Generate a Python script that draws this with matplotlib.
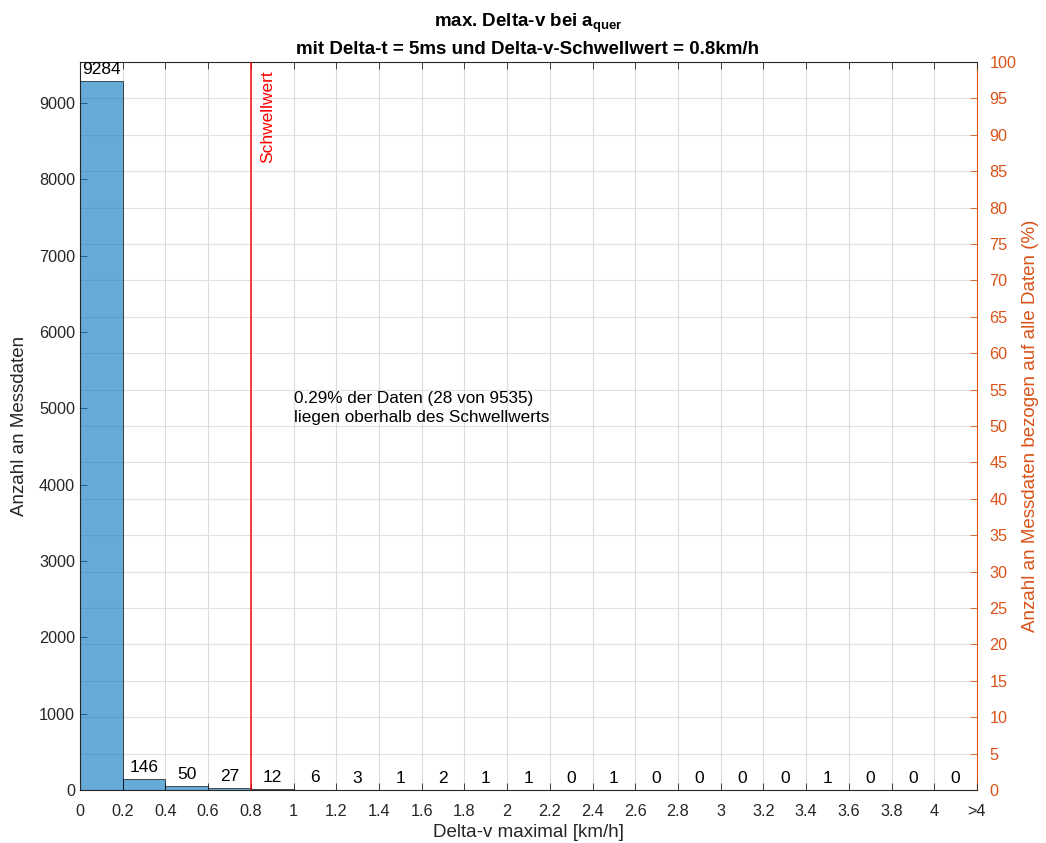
import matplotlib
matplotlib.use("Agg")
import matplotlib.pyplot as plt
import numpy as np

plt.rcParams['font.family'] = ['Liberation Sans', 'DejaVu Sans']
plt.rcParams['mathtext.fontset'] = 'custom'
plt.rcParams['mathtext.rm'] = 'Liberation Sans'
plt.rcParams['mathtext.bf'] = 'Liberation Sans:bold'

# histogram data
bin_edges = [0, 0.2, 0.4, 0.6, 0.8, 1.0, 1.2, 1.4, 1.6, 1.8, 2.0, 2.2,
             2.4, 2.6, 2.8, 3.0, 3.2, 3.4, 3.6, 3.8, 4.0, 4.2]
counts = [9284, 146, 50, 27, 12, 6, 3, 1, 2, 1, 1, 0, 1, 0, 0, 0, 0, 1, 0, 0, 0]
tick_labels = ['0', '0.2', '0.4', '0.6', '0.8', '1', '1.2', '1.4', '1.6', '1.8',
               '2', '2.2', '2.4', '2.6', '2.8', '3', '3.2', '3.4', '3.6', '3.8',
               '4', '>4']
threshold = 0.8
total = sum(counts)
above = sum(c for e, c in zip(bin_edges[:-1], counts) if e >= threshold)

txt_col = '#262626'
orange = '#D95319'

fig = plt.figure(figsize=(10.46, 8.43), dpi=100)
ax = fig.add_axes([80 / 1046, 1 - 790 / 843, 897 / 1046, 728 / 843])

ax.bar(bin_edges[:-1], counts, width=0.2, align='edge',
       color=(0.0, 0.447, 0.741, 0.6), edgecolor=(0, 0, 0, 0.75), linewidth=0.6, zorder=2)
centers = [e + 0.1 for e in bin_edges[:-1]]
for x, c in zip(centers, counts):
    ax.annotate(str(c), (x, c), xytext=(0, 3), textcoords='offset points',
                ha='center', va='bottom', fontsize=12.5, color='black', zorder=4)

ax.axvline(threshold, color=(1, 0, 0, 0.8), linewidth=1.3, zorder=3)
ax.text(threshold + 0.045, 9535 * 0.988, 'Schwellwert', rotation=90, color='red',
        ha='left', va='top', fontsize=12.5)
ax.text(1.0, 5000, '%.2f%% der Daten (%d von %d)\nliegen oberhalb des Schwellwerts'
        % (100 * above / total, above, total),
        ha='left', va='center', fontsize=12.3, color='black', linespacing=1.3)

ax.set_xlim(0, 4.2)
ax.set_ylim(0, total)
ax.set_xticks(bin_edges)
ax.set_xticklabels(tick_labels)
ax.set_yticks(np.arange(0, 9001, 1000))
ax.tick_params(axis='both', direction='in', labelsize=11.7, colors=txt_col, length=5, width=0.6)
ax.tick_params(axis='x', top=True, pad=10)
ax.xaxis.grid(True, color='#dcdcdc', linewidth=0.8)
ax.set_axisbelow(True)
for s in ['left', 'top', 'bottom']:
    ax.spines[s].set_color(txt_col)
    ax.spines[s].set_linewidth(0.8)
ax.spines['right'].set_visible(False)
ax.set_xlabel('Delta-v maximal [km/h]', fontsize=13.5, color=txt_col, labelpad=4)
ax.set_ylabel('Anzahl an Messdaten', fontsize=13.5, color=txt_col, labelpad=8)

ax2 = ax.twinx()
ax2.set_ylim(0, 100)
ax2.set_yticks(np.arange(0, 101, 5))
ax2.tick_params(axis='y', direction='in', labelsize=11.7, colors=orange, length=5, width=0.6, pad=9)
ax2.yaxis.grid(True, color='#e2e2e2', linewidth=0.8)
ax2.set_zorder(-1)
ax.patch.set_visible(False)
for s in ['left', 'top', 'bottom']:
    ax2.spines[s].set_visible(False)
ax2.spines['right'].set_color(orange)
ax2.spines['right'].set_linewidth(0.8)
ax2.set_ylabel('Anzahl an Messdaten bezogen auf alle Daten (%)', fontsize=13.5, color=orange, labelpad=4)

fig.text(528 / 1046, 1 - 23 / 843, r'max. Delta-v bei a$_\mathbf{quer}$',
         ha='center', va='center', fontsize=13.5, fontweight='bold', color='black')
fig.text(528 / 1046, 1 - 49 / 843, 'mit Delta-t = 5ms und Delta-v-Schwellwert = 0.8km/h',
         ha='center', va='center', fontsize=13.5, fontweight='bold', color='black')

fig.savefig('out.png', dpi=100)
